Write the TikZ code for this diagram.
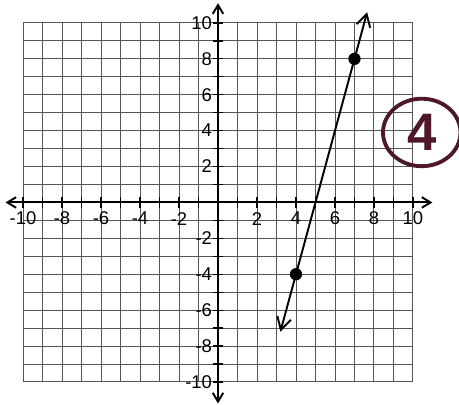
\documentclass[tikz,border=0pt]{standalone}
\usepackage{fontspec}
\setmainfont{Liberation Sans}
\usetikzlibrary{arrows.meta, shapes.geometric}
\definecolor{gline}{RGB}{85, 85, 85}
\definecolor{zmaroon}{RGB}{78, 24, 42}

\begin{document}
\begin{tikzpicture}[
  x=0.39cm, y=0.359cm,
  gridline/.style={gline, line width=0.55pt},
  axis/.style={{Straight Barb[length=5pt, width=6pt]}-{Straight Barb[length=5pt, width=6pt]}, line width=1.1pt},
  tick/.style={line width=0.7pt},
  num/.style={font=\fontsize{10.5}{12}\selectfont, inner sep=1pt},
  dot/.style={circle, fill=black, minimum size=7pt, inner sep=0pt},
  graphline/.style={{Straight Barb[length=7pt, width=8pt]}-{Straight Barb[length=7pt, width=8pt]}, line width=1.1pt}
]
\useasboundingbox (-11.18,-11.28) rectangle (12.36,11.28);

% Grid
\draw[gridline, step={(1,1)}] (-10,-10) grid (10,10);

% Axes
\coordinate (xl) at (-10.9,0);
\coordinate (xr) at (11.0,0);
\coordinate (yb) at (0,-11.2);
\coordinate (yt) at (0,11.1);
\draw[axis] (xl) -- (xr);
\draw[axis] (yb) -- (yt);

% Ticks
\foreach \i in {-10,...,-1,1,2,...,10} {
  \draw[tick] (\i,-0.3) -- (\i,0.3);
  \draw[tick] (-0.25,\i) -- (0.25,\i);
}

% Labels
\foreach \i in {-10,-8,-6,-4,-2,2,4,6,8,10} {
  \node[num] (xn\i) at (\i,-0.9) {\i};
  \node[num, anchor=east] (yn\i) at (-0.2,\i) {\i};
}

% Line through the two points
\node[dot] (p1) at (4,-4) {};
\node[dot] (p2) at (7,8) {};
\coordinate (lo) at (3.2,-7.2);
\coordinate (hi) at (7.65,10.6);
\draw[graphline] (lo) -- (hi);

% Problem number
\node[draw=zmaroon, line width=2.2pt, ellipse, minimum width=1.55cm, minimum height=1.35cm,
      inner sep=0pt, text=zmaroon, font=\fontsize{30}{30}\selectfont\bfseries] (num4) at (10.45,3.9) {4};
\end{tikzpicture}
\end{document}
